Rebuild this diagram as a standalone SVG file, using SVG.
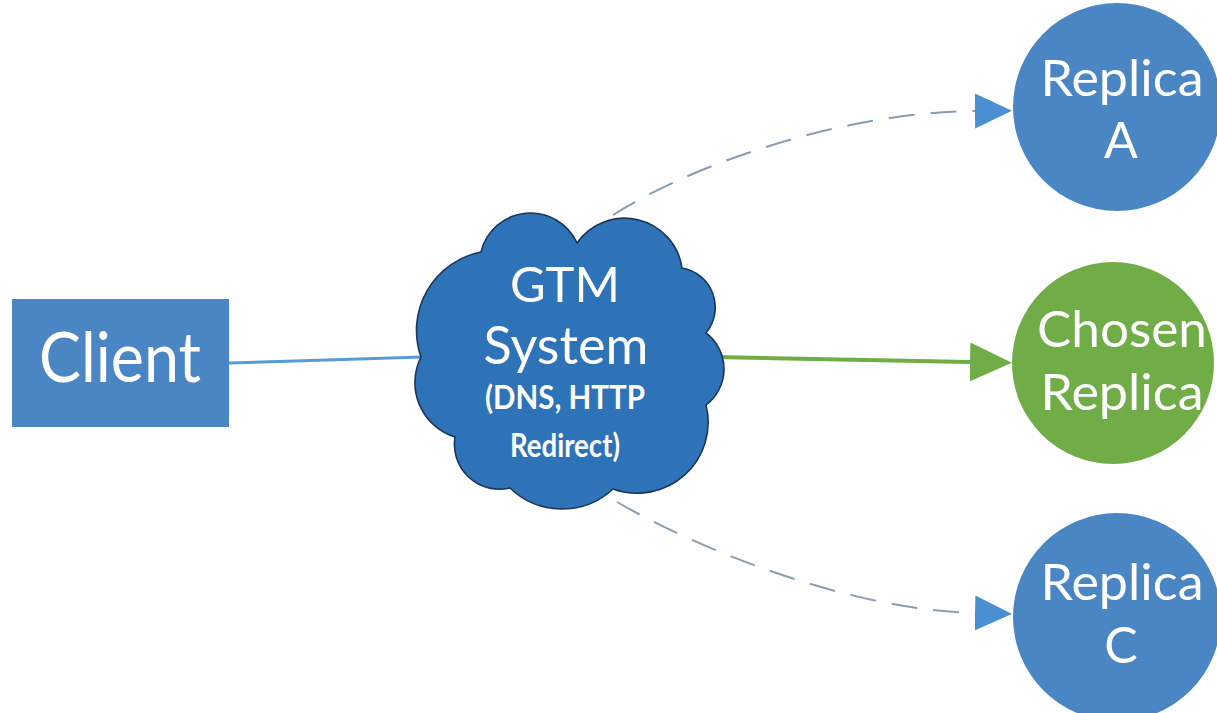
<svg xmlns="http://www.w3.org/2000/svg" width="1217" height="713" viewBox="0 0 1217 713">
  <defs>
    <style>
      .lbl { font-family: Lato, "Open Sans", "Liberation Sans", sans-serif; fill: #ffffff; text-anchor: middle; }
      .bold { font-weight: 700; }
      .box { fill: #4a86c4; }
      .replica { fill: #4a86c4; }
      .chosen { fill: #70ad47; }
      .cloud { fill: #2e72b8; stroke: #1b3658; stroke-width: 1.6; }
      .link { fill: none; stroke: #5b9bd5; stroke-width: 3; }
      .pick { fill: none; stroke: #70ad47; stroke-width: 4; }
      .alt { fill: none; stroke: #8a9cb0; stroke-width: 2; stroke-dasharray: 26 16; }
    </style>
    <marker id="arrowBlue" markerUnits="userSpaceOnUse" markerWidth="38" markerHeight="36" refX="0" refY="17.5" orient="auto">
      <path d="M0,0 L37,17.5 L0,35 Z" fill="#4a8fd2"/>
    </marker>
    <marker id="arrowGreen" markerUnits="userSpaceOnUse" markerWidth="43" markerHeight="40" refX="0" refY="19.5" orient="auto">
      <path d="M0,0 L42,19.5 L0,39 Z" fill="#70ad47"/>
    </marker>
  </defs>

  <!-- connectors -->
  <g id="connectors">
    <path class="link" d="M229,363 L423,357"/>
    <path class="pick" d="M714,357 L970,362" marker-end="url(#arrowGreen)"/>
    <path class="alt" d="M613,215 C700,160 850,112 975,111" marker-end="url(#arrowBlue)"/>
    <path class="alt" d="M617,502 C700,550 850,610 975,613" marker-end="url(#arrowBlue)"/>
  </g>

  <g id="client">
    <rect class="box" x="12" y="299" width="217" height="128"/>
    <text class="lbl" x="120" y="382" font-size="70" textLength="162" lengthAdjust="spacingAndGlyphs">Client</text>
  </g>

  <g id="gtm">
    <path class="cloud" d="M481,252 A51,51 0 0 1 577,243 A58,58 0 0 1 682,268 A40,40 0 0 1 706,333 A45,45 0 0 1 706,405 A71,71 0 0 1 613,489 A75,75 0 0 1 510,488 A45,45 0 0 1 455,437 A57,57 0 0 1 421,357 A80,80 0 0 1 481,252 Z"/>
    <text class="lbl" x="565" y="302" font-size="48" textLength="110" lengthAdjust="spacingAndGlyphs">GTM</text>
    <text class="lbl" x="566" y="364" font-size="52" textLength="165" lengthAdjust="spacingAndGlyphs">System</text>
    <text class="lbl bold" x="565" y="409" font-size="33" textLength="160" lengthAdjust="spacingAndGlyphs">(DNS, HTTP</text>
    <text class="lbl bold" x="565" y="457" font-size="33" textLength="110" lengthAdjust="spacingAndGlyphs">Redirect)</text>
  </g>

  <g id="replica-a">
    <circle class="replica" cx="1117" cy="107" r="104"/>
    <text class="lbl" x="1122" y="96" font-size="50" textLength="163" lengthAdjust="spacingAndGlyphs">Replica</text>
    <text class="lbl" x="1121" y="158" font-size="50">A</text>
  </g>

  <g id="chosen-replica">
    <circle class="chosen" cx="1113" cy="363" r="101"/>
    <text class="lbl" x="1122" y="347" font-size="50" textLength="170" lengthAdjust="spacingAndGlyphs">Chosen</text>
    <text class="lbl" x="1122" y="410" font-size="50" textLength="163" lengthAdjust="spacingAndGlyphs">Replica</text>
  </g>

  <g id="replica-c">
    <circle class="replica" cx="1117" cy="617" r="104"/>
    <text class="lbl" x="1122" y="600" font-size="50" textLength="163" lengthAdjust="spacingAndGlyphs">Replica</text>
    <text class="lbl" x="1121" y="663" font-size="50">C</text>
  </g>
</svg>
